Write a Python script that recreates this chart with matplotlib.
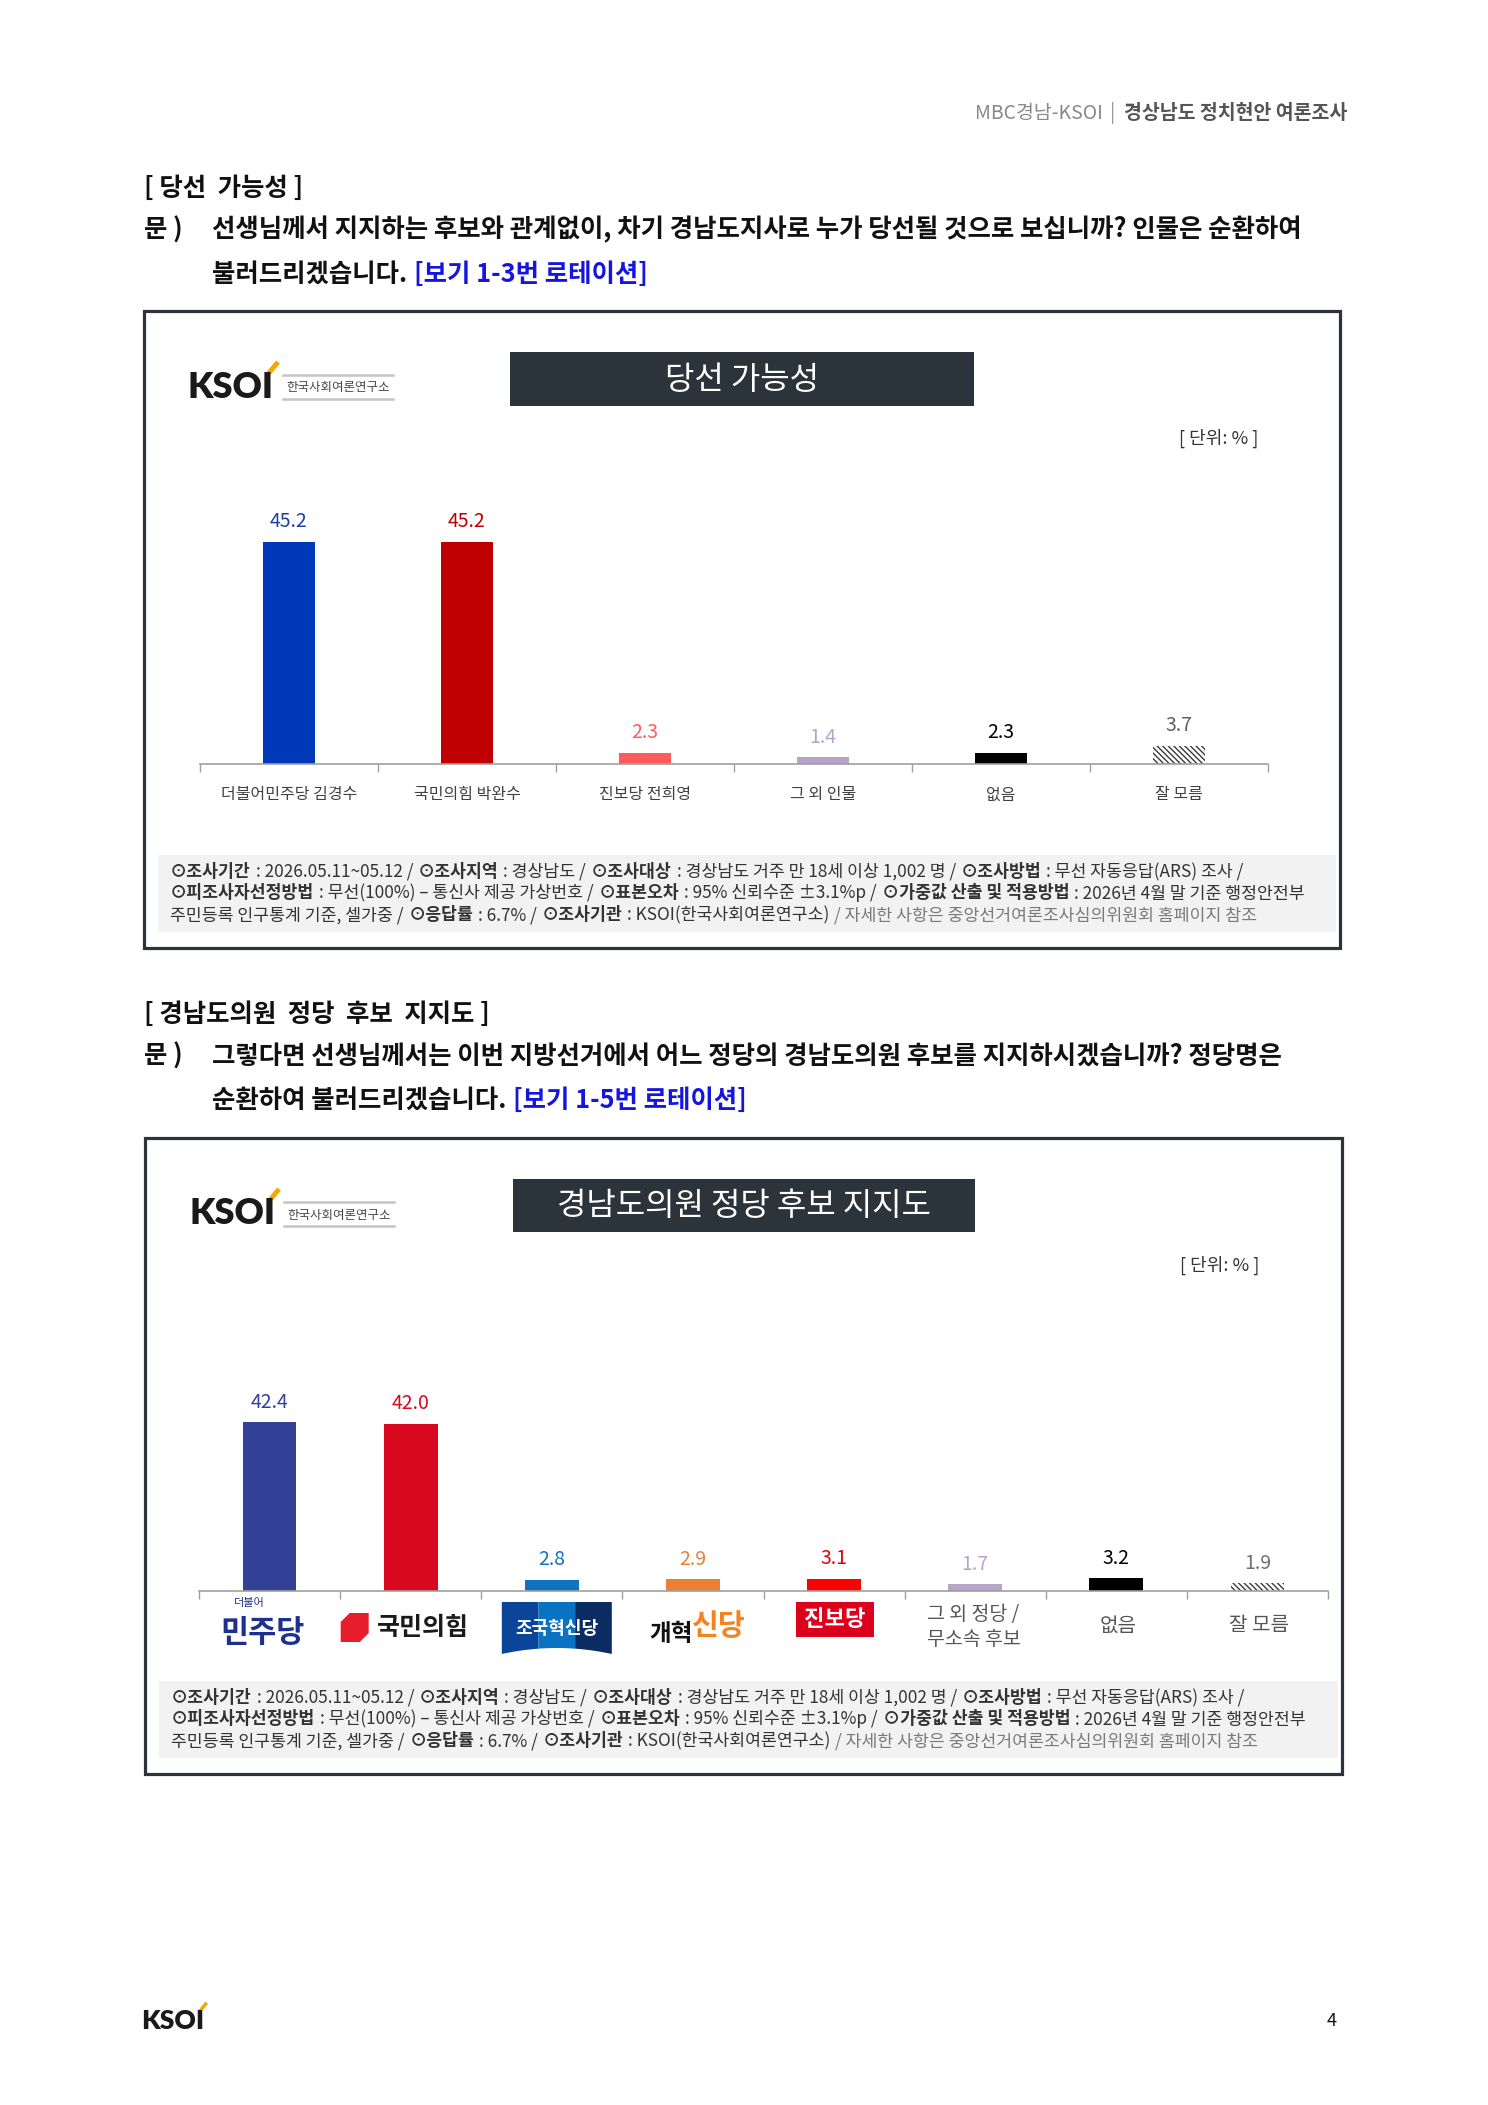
import numpy as np
import matplotlib
matplotlib.use('Agg')
import matplotlib.pyplot as plt
from matplotlib.patches import Rectangle, Polygon
from matplotlib.transforms import Affine2D, ScaledTranslation

plt.rcParams['font.family'] = ['Noto Sans CJK KR', 'DejaVu Sans']
plt.rcParams['hatch.linewidth'] = 1.0

W, H = 1488, 2105
PT = 0.72  # pixel -> point at dpi 100

# ---- data: 당선 가능성 ----
win_labels = ['더불어민주당 김경수', '국민의힘 박완수', '진보당 전희영', '그 외 인물', '없음', '잘 모름']
win_values = [45.2, 45.2, 2.3, 1.4, 2.3, 3.7]
win_colors = ['#0038B8', '#C00000', '#FF5B5B', '#B6A2CA', '#000000', 'white']
win_text_colors = ['#1C3FA6', '#C00000', '#FF5B5B', '#B6A2CA', '#000000', '#606060']

# ---- data: 경남도의원 정당 후보 지지도 ----
party_labels = ['더불어민주당', '국민의힘', '조국혁신당', '개혁신당', '진보당',
                '그 외 정당 /\n무소속 후보', '없음', '잘 모름']
party_values = [42.4, 42.0, 2.8, 2.9, 3.1, 1.7, 3.2, 1.9]
party_colors = ['#324195', '#D8091F', '#0F73C1', '#ED7F34', '#FF0000', '#B8A4CA', '#000000', 'white']
party_text_colors = ['#324195', '#D8091F', '#1B6FBF', '#E8803A', '#E00000', '#B8A4CA', '#000000', '#707070']

note_lines = [
    [('⊙조사기간', 'bold', '#333333'), (' : 2026.05.11~05.12 /', 'normal', '#333333'),
     (' ⊙조사지역', 'bold', '#333333'), (' : 경상남도 /', 'normal', '#333333'),
     (' ⊙조사대상', 'bold', '#333333'), (' : 경상남도 거주 만 18세 이상 1,002 명 /', 'normal', '#333333'),
     (' ⊙조사방법', 'bold', '#333333'), (' : 무선 자동응답(ARS) 조사 /', 'normal', '#333333')],
    [('⊙피조사자선정방법', 'bold', '#333333'), (' : 무선(100%) – 통신사 제공 가상번호 /', 'normal', '#333333'),
     (' ⊙표본오차', 'bold', '#333333'), (' : 95% 신뢰수준 ±3.1%p /', 'normal', '#333333'),
     (' ⊙가중값 산출 및 적용방법', 'bold', '#333333'), (' : 2026년 4월 말 기준 행정안전부', 'normal', '#333333')],
    [('주민등록 인구통계 기준, 셀가중 /', 'normal', '#333333'),
     (' ⊙응답률', 'bold', '#333333'), (' : 6.7% /', 'normal', '#333333'),
     (' ⊙조사기관', 'bold', '#333333'), (' : KSOI(한국사회여론연구소)', 'normal', '#333333'),
     (' / 자세한 사항은 중앙선거여론조사심의위원회 홈페이지 참조', 'normal', '#7a7a7a')],
]

fig = plt.figure(figsize=(W / 100, H / 100), dpi=100)
pg = fig.add_axes([0, 0, 1, 1], zorder=0)
pg.set_xlim(0, W)
pg.set_ylim(H, 0)
pg.axis('off')


def rich(x, y, parts, size):
    # draw text pieces one after another on the same line
    t = None
    for s, w, c in parts:
        n = len(s) - len(s.lstrip(' '))
        s = s.strip(' ')
        gap = n * size * 0.28
        if t is None:
            t = pg.text(x + gap / PT, y, s, fontsize=size, fontweight=w, color=c,
                        ha='left', va='center')
        else:
            t = pg.annotate(s, xy=(1, 0.5), xycoords=t, xytext=(gap, 0),
                            textcoords='offset points', fontsize=size,
                            fontweight=w, color=c, ha='left', va='center')
    return t


def logo(x, y, size, small=True):
    pg.text(x, y, 'KSOI', family='Lato', fontweight='heavy', fontsize=size,
            color='#1a1a1a', ha='left', va='center')
    s = size / 26.0
    pg.plot([x + 80 * s, x + 90 * s], [y - 13 * s, y - 25 * s], color='#F5A800',
            lw=3.5 * s, solid_capstyle='butt')
    if small:
        pg.plot([x + 95, x + 205], [y - 12, y - 12], color='#c4c4c4', lw=1.8)
        pg.plot([x + 95, x + 205], [y + 12, y + 12], color='#c4c4c4', lw=1.8)
        pg.text(x + 150, y + 1, '한국사회여론연구소', fontsize=9, color='#444444',
                ha='center', va='center')


# ---- page header ----
hb = pg.text(1347, 113, '경상남도 정치현안 여론조사', fontsize=14, fontweight='bold',
             color='#555555', ha='right', va='center')
bar_sep = pg.annotate('|', xy=(0, 0.5), xycoords=hb, xytext=(-6, 0), textcoords='offset points',
                      fontsize=14, color='#999999', ha='right', va='center')
pg.annotate('MBC경남-KSOI', xy=(0, 0.5), xycoords=bar_sep, xytext=(-5, 0),
            textcoords='offset points', fontsize=14, color='#888888', ha='right', va='center')

QS = 18.3


def section(y0, head, q1, q2, blue):
    pg.text(144, y0, head, fontsize=QS, fontweight='bold', color='#111111', ha='left', va='center')
    pg.text(144, y0 + 42, '문 )', fontsize=QS, fontweight='bold', color='#111111', ha='left', va='center')
    pg.text(212, y0 + 42, q1, fontsize=QS, fontweight='bold', color='#111111', ha='left', va='center')
    rich(212, y0 + 86, [(q2, 'bold', '#111111'), (' ' + blue, 'bold', '#1515E0')], QS)


def panel(top, bottom, left, right, title, title_box, note_top):
    pg.add_patch(Rectangle((left, top), right - left, bottom - top, facecolor='white',
                           edgecolor='#2d333a', lw=2.3, zorder=1))
    tx0, tx1, ty0, ty1 = title_box
    pg.add_patch(Rectangle((tx0, ty0), tx1 - tx0, ty1 - ty0, facecolor='#2c343b',
                           edgecolor='none', zorder=2))
    pg.text((tx0 + tx1) / 2, (ty0 + ty1) / 2 + 1, title, fontsize=23, fontweight='medium',
            color='white', ha='center', va='center', zorder=3)
    logo(left + 44, top + 76, 26)
    pg.text(1258 + (left - 144), top + 127, '[ 단위: % ]', fontsize=13, color='#333333',
            ha='right', va='center', zorder=3)
    pg.add_patch(Rectangle((left + 14, note_top), right - left - 18, 77, facecolor='#f2f2f2',
                           edgecolor='none', zorder=2))
    for k, parts in enumerate(note_lines):
        rich(left + 26, note_top + 17 + k * 21.5, parts, 12.4)


section(188, '[ 당선  가능성 ]',
        '선생님께서 지지하는 후보와 관계없이, 차기 경남도지사로 누가 당선될 것으로 보십니까? 인물은 순환하여',
        '불러드리겠습니다.', '[보기 1-3번 로테이션]')
panel(311, 948, 144, 1340, '당선 가능성', (510, 974, 352, 406), 855)

section(1014, '[ 경남도의원  정당  후보  지지도 ]',
        '그렇다면 선생님께서는 이번 지방선거에서 어느 정당의 경남도의원 후보를 지지하시겠습니까? 정당명은',
        '순환하여 불러드리겠습니다.', '[보기 1-5번 로테이션]')
panel(1138, 1774, 145, 1342, '경남도의원 정당 후보 지지도', (513, 975, 1179, 1232), 1681)


def chart(x0, x1, base, px_per_unit, values, colors, tcolors, width):
    hpx = 50 * px_per_unit
    ax = fig.add_axes([x0 / W, 1 - base / H, (x1 - x0) / W, hpx / H], zorder=2)
    ax.set_facecolor('none')
    n = len(values)
    x = np.arange(n)
    bars = ax.bar(x, values, width=width, color=colors, linewidth=0, zorder=2)
    bars[-1].set_hatch('\\\\\\\\\\\\')
    bars[-1].set_edgecolor('#3a3a3a')
    ax.set_xlim(-0.5, n - 0.5)
    ax.set_ylim(0, 50)
    for s in ['top', 'left', 'right']:
        ax.spines[s].set_visible(False)
    ax.spines['bottom'].set_color('#a0a0a0')
    ax.spines['bottom'].set_linewidth(1.2)
    ax.set_xticks(np.arange(-0.5, n, 1))
    ax.tick_params(axis='x', length=8 * PT, color='#a0a0a0', width=1, labelbottom=False)
    ax.set_yticks([])
    for i, v in enumerate(values):
        ax.annotate(f'{v:.1f}', xy=(i, v), xytext=(0, 20 * PT), textcoords='offset points',
                    ha='center', va='center', fontsize=14, color=tcolors[i])
    return ax


ax1 = chart(200, 1268, 764, 222 / 45.2, win_values, win_colors, win_text_colors, 0.29)
for i, lab in enumerate(win_labels):
    ax1.annotate(lab, xy=(i, 0), xycoords=ax1.get_xaxis_transform(), xytext=(0, -31 * PT),
                 textcoords='offset points', ha='center', va='center', fontsize=11.5,
                 color='#404040')

ax2 = chart(199, 1328, 1591, 169 / 42.4, party_values, party_colors, party_text_colors, 0.38)


def loc(i):
    # pixel offsets relative to the category position on the baseline
    return Affine2D() + ScaledTranslation(i, 0, ax2.transData)


# 더불어민주당
ax2.text(-7, -42, '민주당', transform=loc(0), fontsize=22, fontweight='heavy', color='#1d2f8f',
         ha='center', va='center', clip_on=False)
ax2.text(-20, -12, '더불어', transform=loc(0), fontsize=8, color='#1d2f8f',
         ha='center', va='center', clip_on=False)
# 국민의힘
ax2.add_patch(Polygon([(-70, -51), (-70, -31), (-61, -22), (-42, -22), (-42, -42), (-51, -51)],
                      closed=True, facecolor='#E61E2B', edgecolor='none',
                      transform=loc(1), clip_on=False))
ax2.text(12, -37, '국민의힘', transform=loc(1), fontsize=18, fontweight='heavy', color='#1a1a1a',
         ha='center', va='center', clip_on=False)
# 조국혁신당
bx = np.linspace(-50, 60, 4)
for k, c in enumerate(['#0B4599', '#0A72C2', '#0B2B63']):
    xs = np.linspace(bx[k], bx[k + 1], 12)
    yb = -63 + 6 * (1 - ((xs - 5) / 55) ** 2)
    pts = [(bx[k], -11), (bx[k + 1], -11)] + list(zip(xs[::-1], yb[::-1]))
    ax2.add_patch(Polygon(pts, closed=True, facecolor=c, edgecolor='none',
                          transform=loc(2), clip_on=False))
ax2.text(5, -37, '조국혁신당', transform=loc(2), fontsize=13, fontweight='bold', color='white',
         ha='center', va='center', clip_on=False)
# 개혁신당
ax2.text(-22, -43, '개혁', transform=loc(3), fontsize=17, fontweight='heavy', color='#111111',
         ha='center', va='center', clip_on=False)
ax2.text(26, -35, '신당', transform=loc(3), fontsize=21, fontweight='heavy', color='#F5821F',
         ha='center', va='center', clip_on=False)
# 진보당
ax2.add_patch(Rectangle((-38, -46), 78, 35, facecolor='#DC001B', edgecolor='none',
                        transform=loc(4), clip_on=False))
ax2.text(1, -28, '진보당', transform=loc(4), fontsize=16, fontweight='heavy', color='white',
         ha='center', va='center', clip_on=False)
# 그 외 / 없음 / 잘 모름
ax2.text(-48, -36, party_labels[5], transform=loc(5), fontsize=14, color='#555555',
         ha='left', va='center', linespacing=1.2, clip_on=False)
for i in [6, 7]:
    ax2.text(2, -35, party_labels[i], transform=loc(i), fontsize=14.5, color='#555555',
             ha='center', va='center', clip_on=False)

# ---- footer ----
logo(141, 2021, 19, small=False)
pg.text(1332, 2021, '4', fontsize=13, color='#111111', ha='center', va='center')

fig.savefig('out.png', dpi=100)
